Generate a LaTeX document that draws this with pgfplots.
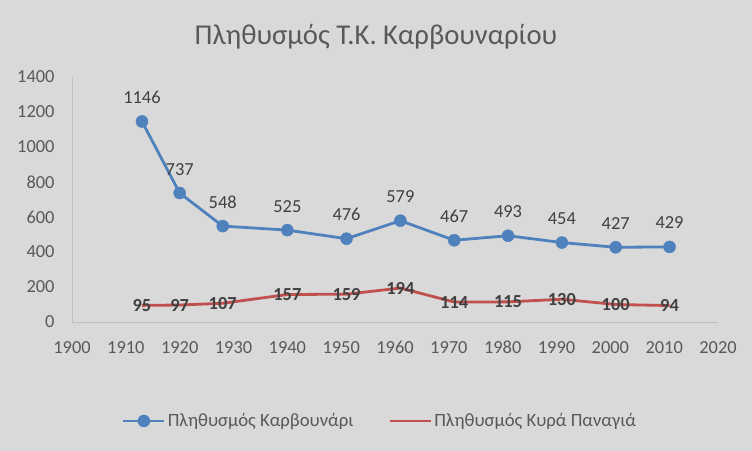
\documentclass[border=0pt]{standalone}
\usepackage{fontspec}
\setmainfont{Carlito}
\usepackage{pgfplots}
\pgfplotsset{compat=1.18}
\definecolor{bg}{HTML}{D9D9D9}
\definecolor{txt}{HTML}{595959}
\definecolor{lab}{HTML}{404040}
\definecolor{cblue}{HTML}{4F81BD}
\definecolor{cred}{HTML}{C0504D}
\definecolor{axl}{HTML}{BFBFBF}
\begin{document}
\begin{tikzpicture}
\fill[bg] (0,0) rectangle (752bp,451bp);
\node[text=txt,font=\fontsize{28.7bp}{34bp}\selectfont] at (376bp,414bp) {Πληθυσμός Τ.Κ. Καρβουναρίου};
\begin{axis}[
  at={(72bp,129bp)}, anchor=south west,
  scale only axis, width=646bp, height=245bp,
  xmin=1900, xmax=2020, ymin=0, ymax=1400,
  xtick distance=10, ytick={0,200,...,1400},
  axis lines*=left,
  axis line style={axl, line width=0.8bp},
  major tick length=0,
  tick label style={text=txt, font=\fontsize{18.4bp}{22bp}\selectfont},
  /pgf/number format/assume math mode=true,
  /pgf/number format/1000 sep={},
  xticklabel style={anchor=north, yshift=-16bp, text height=12bp, text depth=0bp},
  yticklabel style={xshift=-14bp},
  legend columns=2,
  legend style={at={(0.4768,-0.404)}, anchor=center, draw=none, fill=none,
    font=\fontsize{18.7bp}{22bp}\selectfont, text=txt,
    nodes={inner xsep=2bp},
    /tikz/every even column/.append style={column sep=33bp}},
  legend cell align=left,
  legend image code/.code={\draw[mark repeat=2,mark phase=2,#1] plot coordinates {(0bp,0bp) (20.5bp,0bp) (41bp,0bp)};},
  clip=false,
]
\addplot[cblue, line width=2.8bp, mark=*, mark size=6bp, mark options={fill=cblue, draw=cblue, line width=0.5bp},
  nodes near coords, point meta=explicit symbolic,
  every node near coord/.style={anchor=base, yshift=18bp, text=lab, font=\fontsize{18.4bp}{22bp}\selectfont}]
  coordinates {(1913,1146)[1146] (1920,737)[737] (1928,548)[548] (1940,525)[525] (1951,476)[476] (1961,579)[579] (1971,467)[467] (1981,493)[493] (1991,454)[454] (2001,427)[427] (2011,429)[429]};
\addlegendentry{Πληθυσμός Καρβουνάρι}
\addplot[cred, line width=2.8bp, mark=none,
  nodes near coords, point meta=explicit symbolic,
  every node near coord/.style={anchor=center, text=lab, font=\bfseries\fontsize{18.4bp}{22bp}\selectfont}]
  coordinates {(1913,95)[95] (1920,97)[97] (1928,107)[107] (1940,157)[157] (1951,159)[159] (1961,194)[194] (1971,114)[114] (1981,115)[115] (1991,130)[130] (2001,100)[100] (2011,94)[94]};
\addlegendentry{Πληθυσμός Κυρά Παναγιά}
\end{axis}
\end{tikzpicture}
\end{document}
